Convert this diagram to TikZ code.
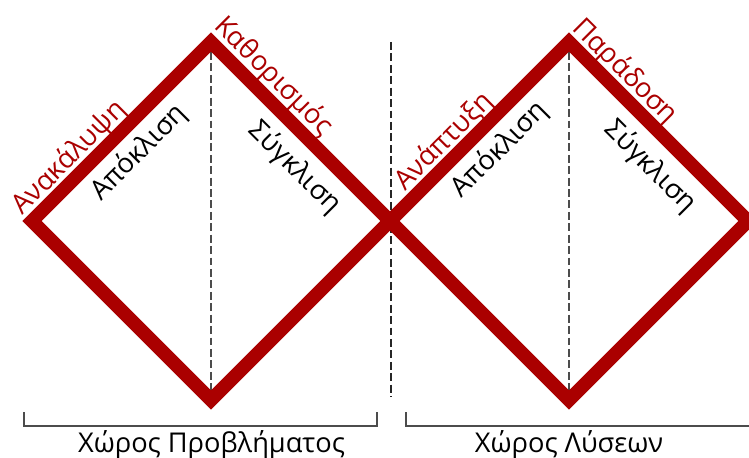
\documentclass[tikz,border=0pt]{standalone}
\usepackage{fontspec}
\setmainfont{Open Sans}
\usetikzlibrary{calc}
\definecolor{ddred}{RGB}{170,0,0}

\begin{document}
\begin{tikzpicture}[
    x=0.02cm, y=0.02cm,
    font=\fontsize{15.5}{18}\selectfont,
    diamond/.style={draw=ddred, line width=7.8pt, line join=miter},
    split/.style={draw=black!70, line width=0.6pt, dash pattern=on 4.5pt off 2pt},
    divider/.style={draw=black!85, line width=0.85pt, dash pattern=on 4.5pt off 2pt},
    bracket/.style={draw=black!70, line width=0.6pt},
    phase/.style={text=ddred, inner sep=0pt},
    mode/.style={text=black, inner sep=0pt},
    space/.style={text=black, inner sep=0pt, anchor=base}
]
    \useasboundingbox (0,0) rectangle (749,457);

    % corners of the two diamonds
    \coordinate (l1) at (32,236);
    \coordinate (t1) at (211,415);
    \coordinate (mid) at (390,236);
    \coordinate (b1) at (211,57);
    \coordinate (t2) at (569,415);
    \coordinate (r2) at (748,236);
    \coordinate (b2) at (569,57);

    % dashed lines
    \draw[split] ($(t1)+(0,-10)$) -- ($(b1)+(0,10)$);
    \draw[split] ($(t2)+(0,-10)$) -- ($(b2)+(0,10)$);
    \draw[divider] (391,415) -- (391,60);

    \draw[diamond] (l1) -- (t1) -- (mid) -- (b1) -- cycle;
    \draw[diamond] (mid) -- (t2) -- (r2) -- (b2) -- cycle;

    % labels on the edges
    \node[phase, rotate=45]  (disc) at ($(l1)!0.28!(t1)!10.4pt!90:(t1)$) {Ανακάλυψη};
    \node[phase, rotate=-45] (defi) at ($(t1)!0.27!(mid)!11.2pt!90:(mid)$) {Καθορισμός};
    \node[mode, rotate=45]   (div1) at ($(l1)!0.49!(t1)!-15.5pt!90:(t1)$) {Απόκλιση};
    \node[mode, rotate=-45]  (con1) at ($(t1)!0.586!(mid)!-16.9pt!90:(mid)$) {Σύγκλιση};
    \node[phase, rotate=45]  (deve) at ($(mid)!0.373!(t2)!10.1pt!90:(t2)$) {Ανάπτυξη};
    \node[mode, rotate=45]   (div2) at ($(mid)!0.505!(t2)!-15.5pt!90:(t2)$) {Απόκλιση};
    \node[phase, rotate=-45] (deli) at ($(t2)!0.239!(r2)!10.7pt!90:(r2)$) {Παράδοση};
    \node[mode, rotate=-45]  (con2) at ($(t2)!0.576!(r2)!-17.5pt!90:(r2)$) {Σύγκλιση};

    % brackets under the diamonds
    \draw[bracket] (24,45) -- (24,31) -- (377,31) -- (377,45);
    \draw[bracket] (406,45) -- (406,31) -- (749,31);
    \node[space] (prob) at (211.5,5) {Χώρος Προβλήματος};
    \node[space] (solu) at (569,5) {Χώρος Λύσεων};
\end{tikzpicture}
\end{document}
